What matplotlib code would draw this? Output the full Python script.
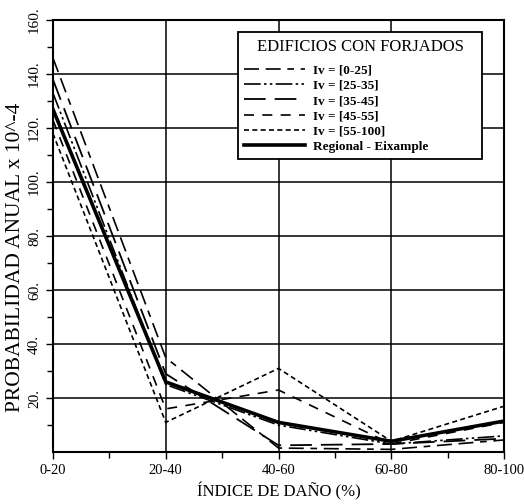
import numpy as np
import matplotlib
matplotlib.use('Agg')
from matplotlib import pyplot as plt

plt.rcParams['font.family'] = ['Liberation Serif', 'DejaVu Serif']

categorias = ['0-20', '20-40', '40-60', '60-80', '80-100']
iv_0_25 = [146, 35, 1.5, 1, 4.5]
iv_25_35 = [133, 25, 10, 3, 6]
iv_35_45 = [138, 29, 2.5, 3, 5]
iv_45_55 = [123, 16, 23, 3, 11]
iv_55_100 = [118, 11, 31, 4, 17]
regional = [127, 26, 11, 4, 11.5]

etiquetas = ['Iv = [0-25]', 'Iv = [25-35]', 'Iv = [35-45]', 'Iv = [45-55]', 'Iv = [55-100]',
             'Regional - Eixample']
y_ticks = [20, 40, 60, 80, 100, 120, 140, 160]

fig = plt.figure(figsize=(5.24, 5.04), dpi=100)
ax = fig.add_axes([0.101, 0.103, 0.861, 0.857])

x = np.arange(len(categorias))
ax.plot(x, iv_0_25, color='black', lw=1.2, dashes=(9, 4, 9, 4, 4, 4), label=etiquetas[0])
ax.plot(x, iv_25_35, color='black', lw=1.2, dashes=(10, 2, 1.5, 2, 1.5, 2), label=etiquetas[1])
ax.plot(x, iv_35_45, color='black', lw=1.3, dashes=(12, 5), label=etiquetas[2])
ax.plot(x, iv_45_55, color='black', lw=1.2, dashes=(6, 5), label=etiquetas[3])
ax.plot(x, iv_55_100, color='black', lw=1.2, dashes=(3, 2), label=etiquetas[4])
ax.plot(x, regional, color='black', lw=2.6, label=etiquetas[5])

ax.set_xlim(0, 4)
ax.set_ylim(0, 160)
ax.set_xticks(x)
ax.set_xticklabels(categorias, fontsize=10.5)
ax.set_xticks(x[:-1] + 0.5, minor=True)
ax.set_yticks(y_ticks)
ax.set_yticklabels([str(v) + '.' for v in y_ticks], rotation=90, va='center', fontsize=11)
ax.set_yticks(np.arange(10, 160, 20), minor=True)
ax.tick_params(axis='both', which='both', direction='out', color='black', width=1)
ax.tick_params(axis='both', which='major', length=5)
ax.tick_params(axis='both', which='minor', length=4)

for v in y_ticks:
    ax.axhline(v, color='black', lw=1.1, zorder=0)
for xi in x[1:-1]:
    ax.axvline(xi, color='black', lw=1.1, zorder=0)
for s in ax.spines.values():
    s.set_linewidth(1.5)

ax.set_ylabel('PROBABILIDAD ANUAL x 10^-4', fontsize=15.5)
ax.yaxis.set_label_coords(-0.062, 0.45)
ax.set_xlabel('ÍNDICE DE DAÑO (%)', fontsize=12, labelpad=4)

leg = ax.legend(loc='upper left', bbox_to_anchor=(0.41, 0.672, 0.541, 0.3), mode='expand',
                title='EDIFICIOS CON FORJADOS',
                fontsize=9.5, title_fontsize=12, fancybox=False, framealpha=1,
                edgecolor='black', handlelength=4.6, handletextpad=0.6,
                labelspacing=0.22, borderpad=0.5, borderaxespad=0)
leg.get_frame().set_linewidth(1.3)
leg._legend_box.sep = 7
for t in leg.get_texts():
    t.set_fontweight('bold')

fig.savefig('out.png', dpi=100)
